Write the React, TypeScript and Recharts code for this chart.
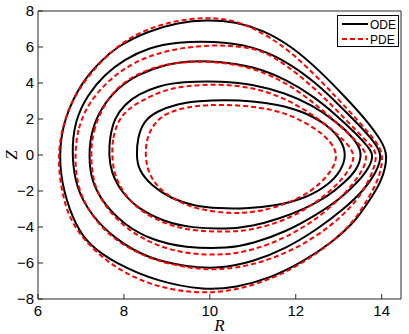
import { LineChart, Line, XAxis, YAxis, Legend } from "recharts";

type Pt = [number, number];

// flux surfaces, [R, Z], innermost first, clockwise from the left side (closed loops)
const ode1: Pt[] = [
  [8.29, 0], [8.32, 0.96], [8.46, 1.89], [8.77, 2.44], [9.26, 2.85], [9.72, 3.0], [10.4, 3.06],
  [11.0, 2.98], [11.55, 2.82], [12.2, 2.4], [12.75, 1.65], [13.06, 0.85], [13.18, 0],
  [13.06, -0.85], [12.77, -1.65], [12.25, -2.38], [11.55, -2.83], [10.8, -2.99], [10.2, -2.97],
  [9.64, -2.83], [9.1, -2.43], [8.64, -1.7], [8.34, -0.85],
];
const ode2: Pt[] = [
  [7.65, 0], [7.67, 0.96], [7.78, 2.07], [8.02, 2.81], [8.33, 3.37], [8.79, 3.83], [9.33, 4.07],
  [10.3, 4.1], [11.01, 3.93], [11.75, 3.45], [12.4, 2.75], [12.85, 2.0], [13.25, 1.2],
  [13.46, 0.55], [13.54, 0], [13.43, -0.8], [13.15, -1.5], [12.75, -2.3], [12.2, -3.0],
  [11.6, -3.55], [11.0, -3.95], [10.4, -4.12], [9.57, -4.05], [8.95, -3.72], [8.33, -2.98],
  [7.94, -2.06], [7.7, -0.95],
];
const ode3: Pt[] = [
  [7.18, 0], [7.24, 1.33], [7.47, 2.63], [7.86, 3.74], [8.33, 4.48], [8.95, 5.04], [9.57, 5.22],
  [10.15, 5.21], [11.01, 4.94], [11.78, 4.2], [12.45, 3.2], [12.95, 2.2], [13.4, 1.2],
  [13.67, 0.5], [13.82, 0], [13.71, -0.7], [13.45, -1.5], [13.05, -2.4], [12.5, -3.3],
  [11.78, -4.26], [11.01, -4.91], [10.45, -5.2], [9.41, -5.16], [8.64, -4.72], [8.02, -3.89],
  [7.55, -2.78], [7.24, -1.48],
];
const ode4: Pt[] = [
  [6.78, 0], [6.85, 1.89], [7.16, 3.37], [7.55, 4.48], [8.02, 5.31], [8.56, 5.96], [9.26, 6.28],
  [10.07, 6.33], [11.01, 6.06], [11.78, 5.22], [12.45, 4.05], [13.0, 2.8], [13.5, 1.6],
  [13.84, 0.7], [14.02, 0], [13.87, -1.0], [13.57, -2.0], [13.12, -3.0], [12.52, -4.1],
  [11.78, -5.19], [11.01, -5.93], [10.2, -6.32], [9.49, -6.22], [8.56, -5.76], [7.78, -4.65],
  [7.24, -3.35], [6.89, -1.87],
];
const ode5: Pt[] = [
  [6.48, 0], [6.6, 2], [7.0, 4], [7.45, 5.2], [7.82, 6], [8.56, 6.89], [9.26, 7.36], [9.92, 7.52],
  [10.6, 7.41], [11.24, 6.94], [11.9, 6.05], [12.55, 4.7], [13.2, 3.1], [13.62, 2.0],
  [13.98, 0.85], [14.16, 0], [14.0, -1.5], [13.69, -2.6], [13.4, -3.65], [12.87, -4.81],
  [12.17, -5.93], [11.4, -6.85], [10.6, -7.36], [9.9, -7.52], [8.79, -7.05], [7.78, -6],
  [7.2, -5], [6.89, -4], [6.58, -2],
];

const pde1: Pt[] = [
  [8.5, 0], [8.52, 0.78], [8.64, 1.52], [8.87, 2.17], [9.26, 2.56], [9.72, 2.74], [10.23, 2.81],
  [10.9, 2.72], [11.4, 2.55], [11.9, 2.2], [12.45, 1.5], [12.82, 0.75], [12.98, 0],
  [12.87, -0.75], [12.6, -1.55], [12.15, -2.35], [11.5, -2.95], [11.0, -3.18], [10.5, -3.27],
  [9.72, -3.02], [9.26, -2.6], [8.79, -1.86], [8.55, -0.9],
];
const pde2: Pt[] = [
  [7.72, 0], [7.74, 0.96], [7.86, 1.89], [8.09, 2.54], [8.4, 3.0], [8.87, 3.56], [9.41, 3.84],
  [10.23, 3.95], [11.01, 3.76], [11.7, 3.2], [12.3, 2.4], [12.8, 1.5], [13.16, 0.75],
  [13.4, 0], [13.26, -0.8], [12.95, -1.7], [12.45, -2.7], [11.8, -3.6], [11.01, -4.17],
  [10.4, -4.28], [9.64, -4.23], [9.02, -3.9], [8.4, -3.16], [8.02, -2.23], [7.77, -1.12],
];
const pde3: Pt[] = [
  [7.22, 0], [7.28, 1.33], [7.5, 2.65], [7.85, 3.8], [8.33, 4.55], [8.95, 5.05], [9.57, 5.2],
  [10.23, 5.17], [11.01, 4.85], [11.78, 4.02], [12.4, 2.95], [12.95, 1.8], [13.42, 0.75],
  [13.71, 0], [13.53, -1.0], [13.15, -2.15], [12.56, -3.45], [11.78, -4.6], [11.01, -5.28],
  [10.4, -5.56], [9.57, -5.53], [8.79, -5.1], [8.09, -4.18], [7.59, -2.97], [7.29, -1.68],
];
const pde4: Pt[] = [
  [6.85, 0], [6.93, 1.52], [7.16, 2.81], [7.55, 3.93], [8.02, 4.85], [8.56, 5.5], [9.26, 5.94],
  [10.03, 6.11], [10.6, 6.06], [11.2, 5.85], [11.78, 5.0], [12.4, 3.8], [12.95, 2.5],
  [13.45, 1.25], [13.76, 0.5], [13.92, 0], [13.73, -1.4], [13.32, -2.9], [12.56, -4.44],
  [11.78, -5.46], [11.01, -6.11], [10.23, -6.4], [9.57, -6.31], [8.64, -5.84], [7.82, -4.82],
  [7.28, -3.53], [6.91, -1.86],
];
const pde5: Pt[] = [
  [6.45, 0], [6.6, 2], [7.0, 4], [7.8, 6.05], [8.5, 6.98], [9.2, 7.47], [9.86, 7.63],
  [10.4, 7.57], [11.01, 7.1], [11.78, 5.96], [12.4, 4.57], [12.95, 3.2], [13.45, 1.9],
  [13.86, 0.8], [14.06, 0], [13.93, -1.4], [13.64, -2.6], [13.35, -3.7], [12.85, -4.85],
  [12.17, -6.0], [11.4, -6.95], [10.5, -7.57], [9.64, -7.71], [8.56, -7.23], [7.59, -6],
  [6.78, -4], [6.54, -2],
];

const odeCurves = [ode1, ode2, ode3, ode4, ode5];
const pdeCurves = [pde1, pde2, pde3, pde4, pde5];

const xTicks = [6, 8, 10, 12, 14];
const yTicks = [-8, -6, -4, -2, 0, 2, 4, 6, 8];

const toRows = (pts: Pt[]) => pts.map(([r, z]) => ({ r, z }));
const fmt = (v: number) => (v < 0 ? `\u2212${Math.abs(v)}` : `${v}`);

const AXIS = "#262626";
const tickFont = { fill: "#000", fontSize: 15, fontFamily: "Liberation Sans, Arial, sans-serif" };

function LegendBox() {
  return (
    <svg width={62} height={32} style={{ display: "block" }}>
      <rect x={0.5} y={0.5} width={61} height={31} fill="#fff" stroke="#000" strokeWidth={1} />
      <line x1={5} x2={31} y1={9} y2={9} stroke="#000" strokeWidth={2} />
      <text x={33} y={13.5} fontSize={12} fontFamily="Liberation Sans, Arial, sans-serif">ODE</text>
      <line x1={5} x2={31} y1={24} y2={24} stroke="#ff0000" strokeWidth={2} strokeDasharray="5 3" />
      <text x={33} y={28.5} fontSize={12} fontFamily="Liberation Sans, Arial, sans-serif">PDE</text>
    </svg>
  );
}

export default function App() {
  return (
    <div style={{ position: "absolute", left: 0, top: 0, background: "#fff" }}>
      <LineChart width={409} height={334} margin={{ top: 0, right: 0, bottom: 0, left: 0 }}>
        <XAxis
          type="number"
          dataKey="r"
          domain={[6, 14.45]}
          ticks={xTicks}
          interval={0}
          allowDataOverflow
          height={35}
          stroke={AXIS}
          tickSize={-5}
          tickMargin={11}
          tick={tickFont}
          label={{
            value: "R",
            position: "insideBottom",
            offset: 3,
            style: { fontFamily: "Liberation Serif, serif", fontStyle: "italic", fontSize: 17, fill: "#000" },
          }}
        />
        <XAxis
          xAxisId="top"
          orientation="top"
          type="number"
          dataKey="r"
          domain={[6, 14.45]}
          ticks={xTicks}
          interval={0}
          allowDataOverflow
          height={11}
          stroke={AXIS}
          tickSize={-5}
          tick={false}
        />
        <YAxis
          type="number"
          domain={[-8, 8]}
          ticks={yTicks}
          interval={0}
          allowDataOverflow
          width={38}
          stroke={AXIS}
          tickSize={-5}
          tickMargin={9}
          tick={tickFont}
          tickFormatter={fmt}
          label={{
            content: () => (
              <text
                x={11}
                y={155}
                transform="rotate(-90 11 155)"
                textAnchor="middle"
                dominantBaseline="central"
                fontFamily="Liberation Serif, serif"
                fontStyle="italic"
                fontSize={17}
              >
                Z
              </text>
            ),
          }}
        />
        <YAxis
          yAxisId="right"
          orientation="right"
          type="number"
          domain={[-8, 8]}
          ticks={yTicks}
          interval={0}
          allowDataOverflow
          width={8}
          stroke={AXIS}
          tickSize={-5}
          tick={false}
        />
        {odeCurves.map((c, i) => (
          <Line
            key={`ode${i}`}
            data={toRows(c)}
            dataKey="z"
            type="basisClosed"
            stroke="#000"
            strokeWidth={2}
            dot={false}
            activeDot={false}
            legendType="none"
            isAnimationActive={false}
          />
        ))}
        {pdeCurves.map((c, i) => (
          <Line
            key={`pde${i}`}
            data={toRows(c)}
            dataKey="z"
            type="basisClosed"
            stroke="#ff0000"
            strokeWidth={2}
            strokeDasharray="5 3"
            dot={false}
            activeDot={false}
            legendType="none"
            isAnimationActive={false}
          />
        ))}
        <Legend
          layout="vertical"
          align="center"
          verticalAlign="middle"
          wrapperStyle={{ top: 15, left: 337, width: 62, height: 32 }}
          content={() => <LegendBox />}
        />
      </LineChart>
    </div>
  );
}
